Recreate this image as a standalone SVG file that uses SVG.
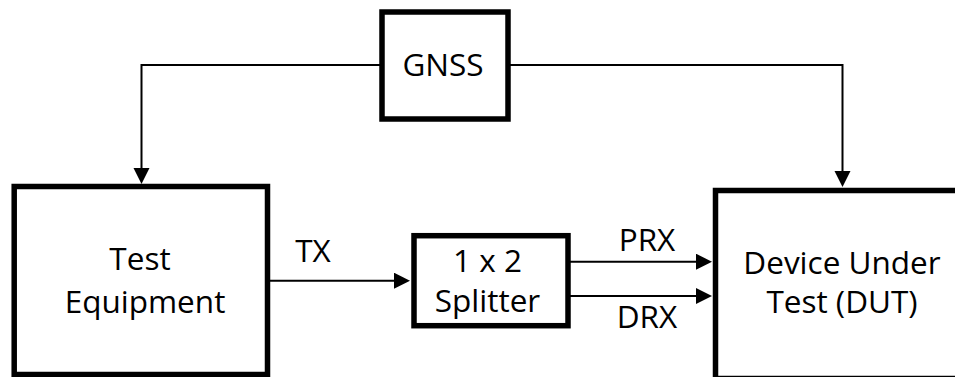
<svg xmlns="http://www.w3.org/2000/svg" width="955" height="377" viewBox="0 0 955 377">
<style>
.box{fill:#fff;stroke:#000;stroke-width:5.5}
.conn{fill:none;stroke:#000;stroke-width:2}
text{font-family:"Open Sans","Noto Sans",sans-serif;font-size:31.5px;fill:#000;text-anchor:middle}
</style>
<defs>
<marker id="arr" markerUnits="userSpaceOnUse" markerWidth="17" markerHeight="17" refX="11" refY="8" orient="auto" viewBox="0 0 17 17">
<path d="M0,0 L16,8 L0,16 z" fill="#000"/>
</marker>
</defs>
<rect width="955" height="377" fill="#fff"/>
<g id="connectors">
<path class="conn" d="M380 65 H141.5 V179" marker-end="url(#arr)"/>
<path class="conn" d="M510 65 H842.5 V182" marker-end="url(#arr)"/>
<path class="conn" d="M270 280.7 H405" marker-end="url(#arr)"/>
<path class="conn" d="M570 261.7 H707" marker-end="url(#arr)"/>
<path class="conn" d="M570 296 H707" marker-end="url(#arr)"/>
<text x="313" y="262">TX</text>
<text x="647" y="251">PRX</text>
<text x="647" y="328">DRX</text>
</g>
<g id="gnss">
<rect class="box" x="382" y="12" width="126" height="107"/>
<text x="443" y="76">GNSS</text>
</g>
<g id="test-equipment">
<rect class="box" x="14.2" y="186.5" width="253.3" height="188"/>
<text x="140" y="270">Test</text>
<text x="145" y="313">Equipment</text>
</g>
<g id="splitter">
<rect class="box" x="414" y="235.7" width="154" height="90"/>
<text x="487.5" y="272">1 x 2</text>
<text x="487.5" y="312">Splitter</text>
</g>
<g id="dut">
<rect class="box" x="715.5" y="190.5" width="260" height="188"/>
<text x="842" y="274">Device Under</text>
<text x="842" y="313">Test (DUT)</text>
</g>
</svg>
